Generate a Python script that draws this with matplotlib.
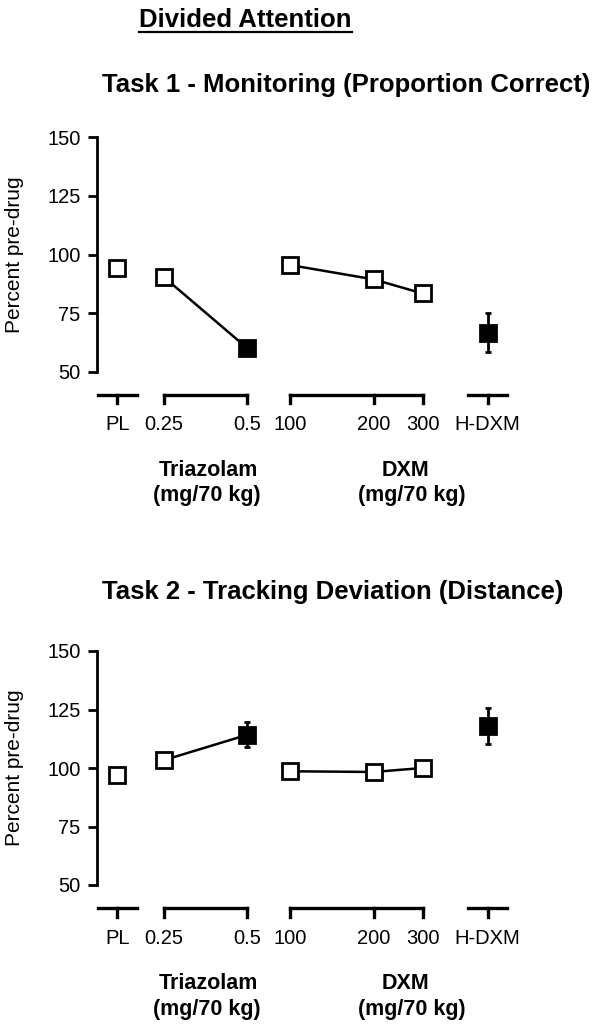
import numpy as np
import matplotlib
matplotlib.use("Agg")
import matplotlib.pyplot as plt
from matplotlib.lines import Line2D

plt.rcParams['font.family'] = ['Liberation Sans', 'DejaVu Sans']

# data
labels = ["PL", "0.25", "0.5", "100", "200", "300", "H-DXM"]
monitoring = [94.1, 90.5, 60.0, 95.5, 89.4, 83.4, 66.6]
monitoring_err = [1.0, 1.0, 2.0, 1.0, 1.0, 5.0, 8.4]
tracking = [97.1, 103.3, 114.2, 98.6, 98.3, 100.0, 118.0]
tracking_err = [1.0, 1.0, 5.4, 1.0, 1.0, 1.0, 7.8]
filled = [False, False, True, False, False, False, True]
groups = [("Triazolam", "(mg/70 kg)"), ("DXM", "(mg/70 kg)")]

# layout (x positions in axis units, 1 unit ~ 41.5 px)
xpos = np.array([0, 1.11, 3.13, 4.16, 6.17, 7.35, 8.92])
connected = [(1, 2), (3, 4, 5)]
# (start index, end index) for each bracket; single points get a short bar
brackets = [(0, 0), (1, 2), (3, 5), (6, 6)]
group_x = [(2.19, 2.16), (6.93, 7.09)]

W, H = 600, 1029
fig = plt.figure(figsize=(6, 10.29), dpi=100)


def px(x, y):
    return x / W, 1 - y / H


def panel(top, bottom, values, errs):
    l, b = px(96.7, bottom)
    ax = fig.add_axes([l, b, 433.3 / W, (bottom - top) / H])
    ax.set_ylim(50, 150)
    ax.set_xlim(-0.5, 9.94)
    ax.set_yticks([50, 75, 100, 125, 150])
    ax.tick_params(axis='y', labelsize=14.5, width=2, length=6.5, pad=5)
    ax.set_xticks([])
    for s in ['top', 'right', 'bottom']:
        ax.spines[s].set_visible(False)
    ax.spines['left'].set_linewidth(2)
    ax.set_ylabel("Percent pre-drug", fontsize=15)
    ax.yaxis.set_label_coords((24 - 96.7) / 433.3, 0.5)

    for grp in connected:
        idx = list(grp)
        ax.plot(xpos[idx], [values[i] for i in idx], color='black', lw=1.8, zorder=2)
    for i in range(len(labels)):
        if filled[i]:
            ax.errorbar(xpos[i], values[i], yerr=errs[i], fmt='none', ecolor='black',
                        elinewidth=2, capsize=2.5, capthick=2, zorder=3)
        ax.plot(xpos[i], values[i], marker='s', ms=11, mew=2,
                mfc='black' if filled[i] else 'white', mec='black', zorder=4)

    # group brackets under the axis
    yb = 40
    tick = 3.5
    kw = dict(color='black', lw=2.4, clip_on=False, solid_capstyle='projecting')
    for i0, i1 in brackets:
        if i0 == i1:
            x0, x1 = xpos[i0] - 0.47, xpos[i0] + 0.47
        else:
            x0, x1 = xpos[i0], xpos[i1]
        ax.plot([x0, x1], [yb, yb], **kw)
        for i in range(i0, i1 + 1):
            ax.plot([xpos[i], xpos[i]], [yb, yb - tick], **kw)
    for i, lab in enumerate(labels):
        ax.text(xpos[i], 27.3, lab, ha='center', va='center', fontsize=14.5, clip_on=False)
    for (gx1, gx2), (g1, g2) in zip(group_x, groups):
        ax.text(gx1, 8.0, g1, ha='center', va='center', fontsize=15.5, fontweight='bold')
        ax.text(gx2, -3.0, g2, ha='center', va='center', fontsize=15.5, fontweight='bold')
    return ax


panel(137.3, 371.7, monitoring, monitoring_err)
panel(651.0, 885.0, tracking, tracking_err)

fig.text(*px(139, 20), "Divided Attention", ha='left', va='center', fontsize=18.5, fontweight='bold')
x0, y0 = px(139, 32)
x1, _ = px(352, 32)
fig.add_artist(Line2D([x0, x1], [y0, y0], color='black', lw=1.6))
fig.text(*px(102, 85), "Task 1 - Monitoring (Proportion Correct)", ha='left', va='center',
         fontsize=18.5, fontweight='bold')
fig.text(*px(102, 592), "Task 2 - Tracking Deviation (Distance)", ha='left', va='center',
         fontsize=18.5, fontweight='bold')

fig.savefig("out.png", dpi=100, facecolor='white')
